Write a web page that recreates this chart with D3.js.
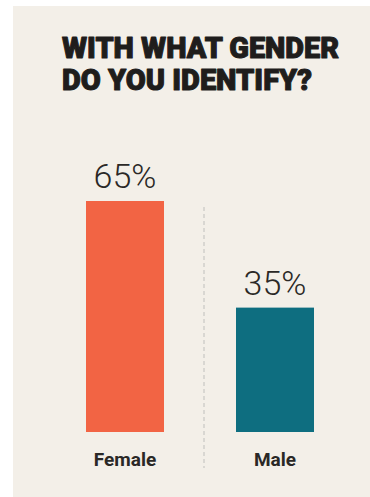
<!DOCTYPE html>
<html>
<head>
<meta charset="utf-8">
<script src="https://cdn.jsdelivr.net/npm/d3@7"></script>
<style>
  html, body { margin: 0; padding: 0; background: #fff; }
  svg { display: block; }
</style>
</head>
<body>
<div id="chart"></div>
<script>
// data
const categories = ["Female", "Male"];
const shares = [65, 35];
const barColors = ["#f26444", "#0e6e80"];
const titleLines = ["WITH WHAT GENDER", "DO YOU IDENTIFY?"];

const width = 370, height = 497;
const svg = d3.select("#chart")
    .append("svg")
    .attr("width", width)
    .attr("height", height);

// beige panel
svg.append("rect")
    .attr("x", 13)
    .attr("y", 6)
    .attr("width", width - 13)
    .attr("height", height - 6)
    .style("fill", "#f3efe8");

// title (stroked a little to get the heavy look)
const titleWidths = [277, 250];
svg.selectAll(".title")
    .data(titleLines)
    .enter()
    .append("text")
    .attr("class", "title")
    .attr("x", 62)
    .attr("y", (d, i) => 58 + i * 32)
    .attr("textLength", (d, i) => titleWidths[i])
    .attr("lengthAdjust", "spacingAndGlyphs")
    .text(d => d)
    .style("font-family", "Roboto, 'Liberation Sans', sans-serif")
    .style("font-weight", 900)
    .style("font-size", "30px")
    .style("fill", "#1f1d1c")
    .style("stroke", "#1f1d1c")
    .style("stroke-width", 1.1)
    .style("stroke-linejoin", "round");

// scales
const x = d3.scaleBand()
    .domain(categories)
    .range([86, 314])
    .paddingInner(0.48)
    .paddingOuter(0);

const y = d3.scaleLinear()
    .domain([0, 65])
    .range([432, 201]);

const rows = categories.map((c, i) => ({ cat: c, value: shares[i], color: barColors[i] }));

// dashed divider between the bars
const divX = x("Female") + x.bandwidth() + (x.step() - x.bandwidth()) / 2 + 4;
svg.append("line")
    .attr("x1", divX)
    .attr("x2", divX)
    .attr("y1", 207)
    .attr("y2", 468)
    .style("stroke", "#c9c7c3")
    .style("stroke-width", 1.2)
    .style("stroke-dasharray", "4,3");

// bars
svg.selectAll(".bar")
    .data(rows)
    .enter()
    .append("rect")
    .attr("class", "bar")
    .attr("x", d => x(d.cat))
    .attr("y", d => y(d.value))
    .attr("width", x.bandwidth())
    .attr("height", d => y(0) - y(d.value))
    .style("fill", d => d.color);

// value labels
svg.selectAll(".value")
    .data(rows)
    .enter()
    .append("text")
    .attr("class", "value")
    .attr("x", d => x(d.cat) + x.bandwidth() / 2)
    .attr("y", d => y(d.value) - 13)
    .attr("text-anchor", "middle")
    .text(d => d.value + "%")
    .style("font-family", "Roboto, 'Liberation Sans', sans-serif")
    .style("font-weight", 300)
    .style("font-size", "34px")
    .style("fill", "#2a2826");

// category labels
const axis = svg.append("g")
    .attr("transform", `translate(0,${y(0)})`)
    .call(d3.axisBottom(x).tickSize(0).tickPadding(21));
axis.select(".domain").remove();
axis.selectAll("text")
    .style("font-family", "Roboto, 'Liberation Sans', sans-serif")
    .style("font-weight", 700)
    .style("font-size", "19px")
    .style("fill", "#2a2826");
</script>
</body>
</html>
